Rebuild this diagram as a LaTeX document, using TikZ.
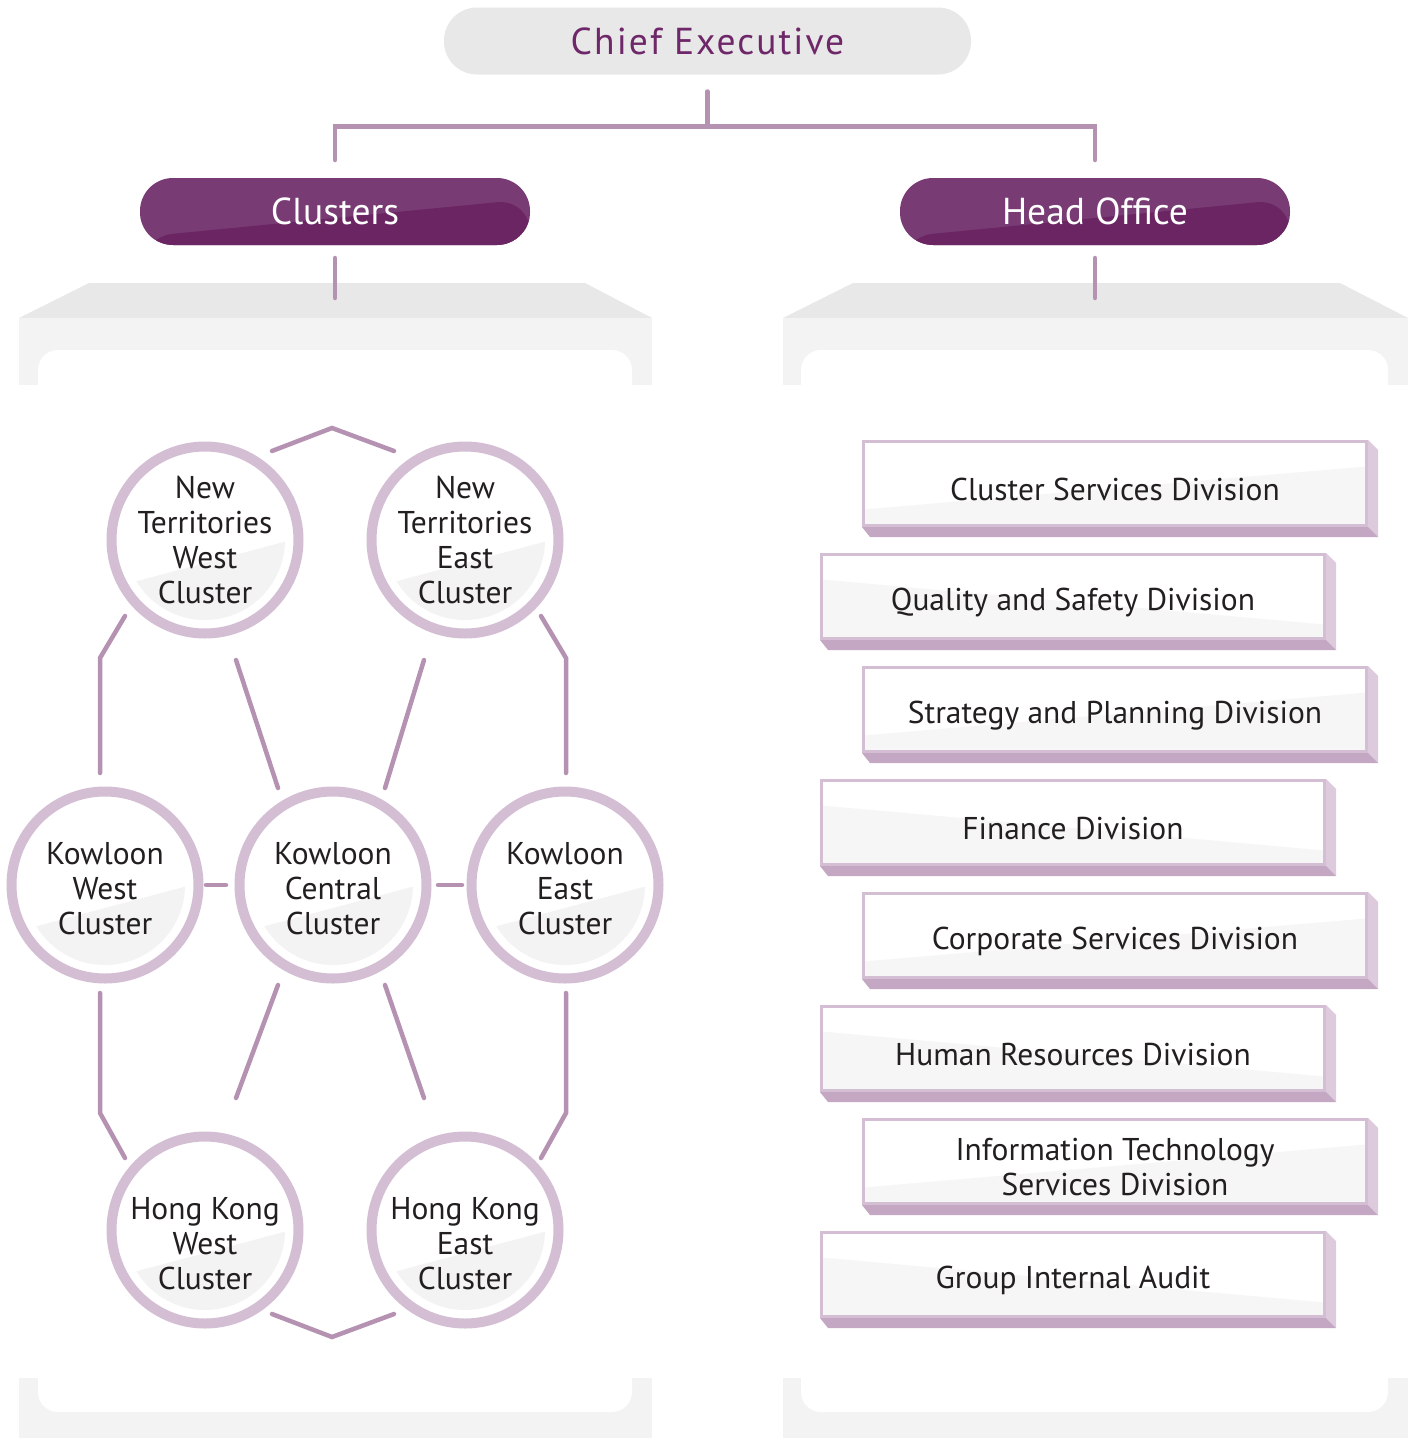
\documentclass[tikz,border=0pt]{standalone}
\usepackage{fontspec}
\setmainfont{PT Sans}
\usetikzlibrary{calc}
\definecolor{cetext}{HTML}{6E2768}
\definecolor{pilllight}{HTML}{783B74}
\definecolor{pilldark}{HTML}{6A2562}
\definecolor{linkcol}{HTML}{B592B2}
\definecolor{ringcol}{HTML}{D4BED4}
\definecolor{glosscol}{HTML}{F3F3F3}
\definecolor{boxgloss}{HTML}{F6F6F6}
\definecolor{paneltop}{HTML}{E8E8E8}
\definecolor{panelside}{HTML}{F3F3F3}
\definecolor{bevelbot}{HTML}{C4A7C3}
\definecolor{bevelside}{HTML}{DDCADD}
\definecolor{inkcol}{HTML}{231F20}
\tikzset{
  link/.style={draw=linkcol, line width=4.5pt, line cap=round},
  pill/.style={rectangle, rounded corners=33pt, minimum height=67pt, inner sep=0pt, outer sep=0pt,
    font=\fontsize{37.5}{40}\selectfont},
  pillgloss/.style={path picture={
    \fill[pilldark] ([yshift=8pt]path picture bounding box.south west)
      -- ([yshift=-21pt]path picture bounding box.north east)
      -- (path picture bounding box.south east)
      -- (path picture bounding box.south west) -- cycle;}},
  clusterring/.style={circle, draw=ringcol, line width=10pt, fill=white, minimum size=187pt,
    path picture={
      \begin{scope}
        \clip (path picture bounding box.center) circle (80pt);
        \fill[glosscol] ([shift={(-90,47)}]path picture bounding box.center)
          -- ([shift={(90,-1)}]path picture bounding box.center)
          -- ([shift={(90,90)}]path picture bounding box.center)
          -- ([shift={(-90,90)}]path picture bounding box.center) -- cycle;
      \end{scope}}},
  clustertext/.style={align=center, inner sep=0pt, text=inkcol, font=\fontsize{31.5}{35}\selectfont},
  division/.style={rectangle, draw=ringcol, line width=3pt, fill=white, minimum width=503pt,
    minimum height=84pt, inner sep=0pt},
  divtext/.style={align=center, inner sep=0pt, text=inkcol, font=\fontsize{31.5}{35}\selectfont},
  glossup/.style={path picture={
    \fill[boxgloss] ([yshift=-68pt]path picture bounding box.north west)
      -- ([yshift=-25pt]path picture bounding box.north east)
      -- (path picture bounding box.south east)
      -- (path picture bounding box.south west) -- cycle;}},
  glossdown/.style={path picture={
    \fill[boxgloss] ([yshift=-25pt]path picture bounding box.north west)
      -- ([yshift=-70pt]path picture bounding box.north east)
      -- (path picture bounding box.south east)
      -- (path picture bounding box.south west) -- cycle;}}
}
\newcommand{\myCluster}[4]{
\node[clusterring] (#1) at (#2) {};
\node[clustertext] (#1txt) at ([shift={(0,#3)}]#1.center) {#4};
}
\newcommand{\myDivision}[4]{
\node[division, #3] (#1) at (#2) {};
\node[divtext] (#1txt) at ([shift={(0,6)}]#1.center) {#4};
\fill[bevelside] (#1.north east) -- ++(10,10) -- ([shift={(10,10)}]#1.south east) -- (#1.south east) -- cycle;
\fill[bevelbot] (#1.south west) -- (#1.south east) -- ++(10,10) -- ([shift={(8,10)}]#1.south west) -- cycle;
}
\begin{document}
\begin{tikzpicture}[x=1pt, y=-1pt]
	\useasboundingbox[fill=white] (0,0) rectangle (1415,1438);
	% left panel
	\fill[paneltop] (89,283) -- (585,283) -- (652,318) -- (19,318) -- cycle;
	\fill[panelside] (19,318) rectangle (652,385);
	\fill[panelside] (19,1378) rectangle (652,1438);
	\fill[white, rounded corners=20pt] (38,350) rectangle (632,1412);
	% right panel
	\fill[paneltop] (853,283) -- (1340,283) -- (1408,318) -- (783,318) -- cycle;
	\fill[panelside] (783,318) rectangle (1408,385);
	\fill[panelside] (783,1378) rectangle (1408,1438);
	\fill[white, rounded corners=20pt] (801,350) rectangle (1388,1412);
	% top of the tree
	\node[pill, fill=paneltop, minimum width=527pt, text=cetext] (ce) at (707.5,41)
		{\addfontfeatures{LetterSpace=5.5}Chief Executive};
	\node[pill, pillgloss, fill=pilllight, minimum width=390pt, text=white] (clu) at (335,211.5) {Clusters};
	\node[pill, pillgloss, fill=pilllight, minimum width=390pt, text=white] (ho) at (1095,211.5) {Head Office};
	\draw[link] ([yshift=-17pt]ce.south) -- ++(0,35) coordinate (fork);
	\draw[link] (fork) -| ([yshift=18pt]clu.north);
	\draw[link] (fork) -| ([yshift=18pt]ho.north);
	\draw[link] ([yshift=-13pt]clu.south) -- ++(0,40);
	\draw[link] ([yshift=-13pt]ho.south) -- ++(0,40);
	% clusters
	\myCluster{ntw}{205,540}{0}{New\\Territories\\West\\Cluster}
	\myCluster{nte}{465,540}{0}{New\\Territories\\East\\Cluster}
	\myCluster{kw}{105,885}{4}{Kowloon\\West\\Cluster}
	\myCluster{kc}{333,885}{4}{Kowloon\\Central\\Cluster}
	\myCluster{ke}{565,885}{4}{Kowloon\\East\\Cluster}
	\myCluster{hkw}{205,1230}{14}{Hong Kong\\West\\Cluster}
	\myCluster{hke}{465,1230}{14}{Hong Kong\\East\\Cluster}
	% outer ring of links
	\draw[link] ($(ntw.center)+(67,-89)$) -- ($(ntw.center)!.5!(nte.center)+(-3,-112)$) -- ($(nte.center)+(-71,-89)$);
	\draw[link] ($(hkw.center)+(67,84)$) -- ($(hkw.center)!.5!(hke.center)+(-3,107)$) -- ($(hke.center)+(-71,84)$);
	\draw[link] ($(ntw.center)+(-80,76)$) -- ($(kw.center)+(-5,-227)$) -- ($(kw.center)+(-5,-112)$);
	\draw[link] ($(kw.center)+(-5,108)$) -- ($(kw.center)+(-5,228)$) -- ($(hkw.center)+(-80,-72)$);
	\draw[link] ($(nte.center)+(76,76)$) -- ($(ke.center)+(1,-227)$) -- ($(ke.center)+(1,-112)$);
	\draw[link] ($(ke.center)+(1,108)$) -- ($(ke.center)+(1,228)$) -- ($(hke.center)+(76,-72)$);
	% links to the centre
	\draw[link] ($(ntw.center)+(31,120)$) -- ($(kc.center)+(-55,-97)$);
	\draw[link] ($(nte.center)+(-41,120)$) -- ($(kc.center)+(52,-97)$);
	\draw[link] ($(kc.center)+(-55,100)$) -- ($(hkw.center)+(31,-132)$);
	\draw[link] ($(kc.center)+(52,100)$) -- ($(hke.center)+(-41,-132)$);
	\draw[link] ($(kw.center)+(101,0)$) -- ($(kc.center)+(-107,0)$);
	\draw[link] ($(kc.center)+(105,0)$) -- ($(ke.center)+(-103,0)$);
	% head office divisions
	\myDivision{csd}{1115,483.5}{glossup}{Cluster Services Division}
	\myDivision{qsd}{1073,596.5}{glossdown}{Quality and Safety Division}
	\myDivision{spd}{1115,709.5}{glossup}{Strategy and Planning Division}
	\myDivision{fd}{1073,822.5}{glossdown}{Finance Division}
	\myDivision{cosd}{1115,935.5}{glossup}{Corporate Services Division}
	\myDivision{hrd}{1073,1048.5}{glossdown}{Human Resources Division}
	\myDivision{itsd}{1115,1161.5}{glossup}{Information Technology\\Services Division}
	\myDivision{gia}{1073,1274.5}{glossdown}{Group Internal Audit}
\end{tikzpicture}
\end{document}
